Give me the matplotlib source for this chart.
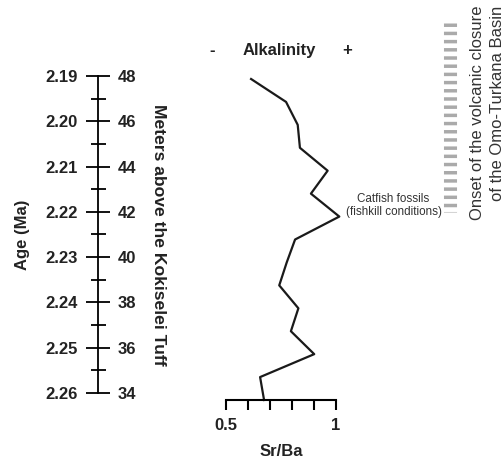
import matplotlib
matplotlib.use("Agg")
import matplotlib.pyplot as plt

plt.rcParams['font.family'] = ['Liberation Sans', 'DejaVu Sans']
plt.rcParams['lines.scale_dashes'] = False

# Sr/Ba profile, one sample per metre (48 m at top, 34 m at bottom)
meters = [48, 47, 46, 45, 44, 43, 42, 41, 40, 39, 38, 37, 36, 35, 34]
sr_ba = [0.614, 0.773, 0.826, 0.836, 0.962, 0.886, 1.015, 0.814,
         0.776, 0.742, 0.829, 0.795, 0.901, 0.655, 0.673]

major_m = [48, 46, 44, 42, 40, 38, 36, 34]
age_labels = ['2.19', '2.20', '2.21', '2.22', '2.23', '2.24', '2.25', '2.26']
minor_m = [47, 45, 43, 41, 39, 37, 35]

sr_ticks = [0.5, 0.6, 0.7, 0.8, 0.9, 1.0]
sr_labels = ['0.5', '', '', '', '', '1']

catfish_m = 42
closure_top, closure_bottom = 50.45, 42.2

W, H = 504, 463
fig = plt.figure(figsize=(W / 100, H / 100), dpi=100)


def box(x0, y0, x1, y1):
    # pixel box (top-left origin) -> figure fraction rect
    return [x0 / W, (H - y1) / H, (x1 - x0) / W, (y1 - y0) / H]


# ---- left scale: age / metres ----
ax_s = fig.add_axes(box(98, 76, 98.1, 393))
ax_s.set_ylim(34, 48)
ax_s.set_xticks([])
for s in ['top', 'right', 'bottom']:
    ax_s.spines[s].set_visible(False)
ax_s.spines['left'].set_linewidth(1.3)
ax_s.set_yticks(major_m)
ax_s.set_yticklabels(age_labels, fontsize=12, fontweight='bold', color='#222222')
ax_s.set_yticks(minor_m, minor=True)
ax_s.tick_params(axis='y', which='major', direction='inout', length=17.3,
                 width=1.3, pad=5.8)
ax_s.tick_params(axis='y', which='minor', direction='inout', length=10.8,
                 width=1.3)
ax_s.set_ylabel('Age (Ma)', fontsize=12, fontweight='bold', color='#222222',
                labelpad=11)

ax_m = ax_s.twinx()
ax_m.set_ylim(34, 48)
for s in ['top', 'right', 'bottom', 'left']:
    ax_m.spines[s].set_visible(False)
ax_m.set_yticks(major_m)
ax_m.set_yticklabels([str(m) for m in major_m], fontsize=12, fontweight='bold',
                     color='#222222')
ax_m.tick_params(axis='y', length=0, pad=14.4)
ax_m.set_ylabel('Meters above the Kokiselei Tuff', fontsize=12.6,
                fontweight='bold', color='#222222', rotation=-90, labelpad=21)

# ---- Sr/Ba profile ----
ax = fig.add_axes(box(226, 79, 336, 400))
ax.plot(sr_ba, meters, color='#1a1a1a', lw=1.6, clip_on=False)
ax.set_xlim(0.5, 1.0)
ax.set_ylim(34, 48)
for s in ['top', 'right', 'left']:
    ax.spines[s].set_visible(False)
ax.spines['bottom'].set_linewidth(1.5)
ax.set_yticks([])
ax.set_xticks(sr_ticks)
ax.set_xticklabels(sr_labels, fontsize=12, fontweight='bold', color='#222222')
ax.tick_params(axis='x', direction='out', length=7.2, width=1.5, pad=6)
ax.set_xlabel('Sr/Ba', fontsize=12, fontweight='bold', color='#222222',
              labelpad=8)

ax.annotate('Catfish fossils\n(fishkill conditions)',
            xy=(sr_ba[meters.index(catfish_m)], catfish_m),
            xytext=(39, 8), textcoords='offset points', ha='center', va='center',
            fontsize=8.4, color='#333333', linespacing=1.1,
            annotation_clip=False)

# closure marker bar
ax.plot([1.52, 1.52], [closure_top, closure_bottom], color='#aaaaaa',
        lw=9.4, dashes=(2.5, 3.4), solid_capstyle='butt', clip_on=False)

# header
fig.text(212 / W, 1 - 51 / H, '-', fontsize=12, fontweight='bold',
         ha='center', va='center', color='#222222')
fig.text(279 / W, 1 - 51 / H, 'Alkalinity', fontsize=12, fontweight='bold',
         ha='center', va='center', color='#222222')
fig.text(347 / W, 1 - 51 / H, '+', fontsize=12, fontweight='bold',
         ha='center', va='center', color='#222222')

fig.text(478 / W, 1 - 6 / H, 'Onset of the volcanic closure', rotation=90,
         fontsize=12, ha='center', va='top', color='#333333')
fig.text(497 / W, 1 - 6 / H, 'of the Omo-Turkana Basin', rotation=90,
         fontsize=12, ha='center', va='top', color='#333333')

fig.savefig('out.png', dpi=100)
